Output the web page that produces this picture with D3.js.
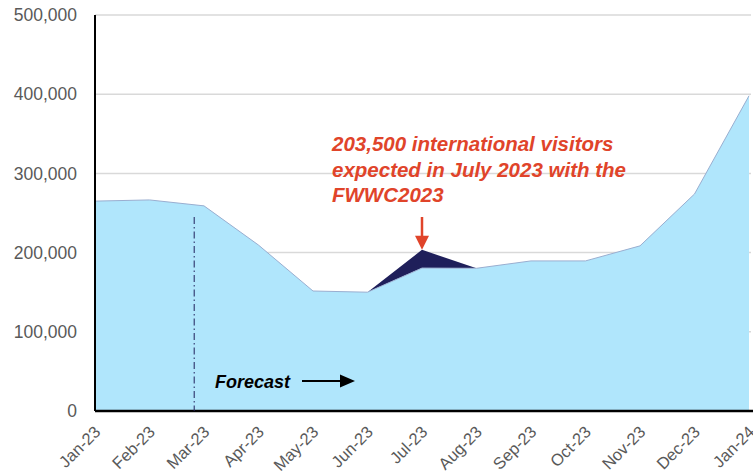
<!DOCTYPE html>
<html>
<head>
<meta charset="utf-8">
<script src="https://cdn.jsdelivr.net/npm/d3@7"></script>
<style>
  html, body { margin: 0; padding: 0; background: #fff; }
  svg { display: block; font-family: "Liberation Sans", Arial, sans-serif; }
</style>
</head>
<body>
<svg id="chart" width="753" height="476"></svg>
<script>
const months = ["Jan-23","Feb-23","Mar-23","Apr-23","May-23","Jun-23","Jul-23","Aug-23","Sep-23","Oct-23","Nov-23","Dec-23","Jan-24"];
const baseVisitors = [265000, 266500, 259000, 209500, 151500, 150000, 180500, 180200, 189500, 189500, 208500, 274000, 398000];
const fwwcExtra =    [0, 0, 0, 0, 0, 0, 23000, 0, 0, 0, 0, 0, 0];
const yTicks = [0, 100000, 200000, 300000, 400000, 500000];
const annotationLines = ["203,500 international visitors", "expected in July 2023 with the", "FWWC2023"];
const forecastLabel = "Forecast";
const forecastStartIndex = 1.82;

const svg = d3.select("#chart");
const m = { left: 95, right: 4, top: 15, bottom: 65 };
const W = 753, H = 476;

const x = d3.scalePoint().domain(months).range([m.left, W - m.right]);
const y = d3.scaleLinear().domain([0, 500000]).range([H - m.bottom, m.top]);
const xi = d3.scaleLinear().domain([0, months.length - 1]).range([m.left, W - m.right]);

// gridlines
svg.append("g").selectAll("line").data(yTicks.filter(d => d > 0)).join("line")
  .attr("x1", m.left).attr("x2", W - 2)
  .attr("y1", d => y(d)).attr("y2", d => y(d))
  .attr("stroke", "#d9d9d9").attr("stroke-width", 1.5);

const data = months.map((mo, i) => ({ mo, base: baseVisitors[i], extra: fwwcExtra[i] }));

// dark stacked area (FWWC)
const areaTop = d3.area()
  .x(d => x(d.mo))
  .y0(d => y(d.base))
  .y1(d => y(d.base + d.extra));
svg.append("path").datum(data).attr("d", areaTop).attr("fill", "#1f1f5a");

// light base area
const areaBase = d3.area()
  .x(d => x(d.mo))
  .y0(y(0))
  .y1(d => y(d.base));
svg.append("path").datum(data).attr("d", areaBase).attr("fill", "#b0e6fc");
svg.append("path").datum(data)
  .attr("d", d3.line().x(d => x(d.mo)).y(d => y(d.base)))
  .attr("fill", "none").attr("stroke", "#9aaed0").attr("stroke-width", 1);

// axes
const yAxis = d3.axisLeft(y).tickValues(yTicks).tickSize(0).tickPadding(18)
  .tickFormat(d3.format(","));
const gy = svg.append("g").attr("transform", `translate(${m.left},0)`).call(yAxis);
gy.select(".domain").remove();
gy.selectAll("text").attr("fill", "#595959").attr("font-size", 17.5)
  .attr("font-family", "Liberation Sans, Arial, sans-serif");

svg.append("line").attr("x1", m.left).attr("x2", m.left)
  .attr("y1", y(500000)).attr("y2", y(0)).attr("stroke", "#000").attr("stroke-width", 2);
svg.append("line").attr("x1", m.left).attr("x2", W)
  .attr("y1", y(0)).attr("y2", y(0)).attr("stroke", "#000").attr("stroke-width", 2.5);

const xAxis = d3.axisBottom(x).tickSize(0).tickPadding(0);
const gx = svg.append("g").attr("transform", `translate(0,${y(0)})`).call(xAxis);
gx.select(".domain").remove();
gx.selectAll("text")
  .attr("fill", "#595959").attr("font-size", 16.5)
  .attr("font-family", "Liberation Sans, Arial, sans-serif")
  .attr("text-anchor", "end")
  .attr("dy", null).attr("y", 0)
  .attr("transform", "translate(6,22) rotate(-45)");

// forecast dash-dot line
svg.append("line")
  .attr("x1", xi(forecastStartIndex)).attr("x2", xi(forecastStartIndex))
  .attr("y1", 217).attr("y2", y(0))
  .attr("stroke", "#1f1f5a").attr("stroke-width", 1)
  .attr("stroke-dasharray", "7,3,1.5,3");

// forecast label + arrow
svg.append("text").attr("x", 215).attr("y", 388)
  .attr("font-size", 18).attr("font-weight", "bold").attr("font-style", "italic")
  .attr("fill", "#000").text(forecastLabel);
svg.append("line").attr("x1", 302).attr("x2", 343).attr("y1", 381).attr("y2", 381)
  .attr("stroke", "#000").attr("stroke-width", 2.2);
svg.append("path").attr("d", "M340,374.5 L355,381 L340,387.5 Z").attr("fill", "#000");

// annotation
const red = "#e0442a";
const ann = svg.append("text").attr("x", 332).attr("y", 151)
  .attr("font-size", 20.5).attr("font-weight", "bold").attr("font-style", "italic")
  .attr("fill", red);
annotationLines.forEach((t, i) => {
  ann.append("tspan").attr("x", 332).attr("dy", i === 0 ? 0 : 25.5).text(t);
});
const jx = x("Jul-23");
const jy = y(baseVisitors[6] + fwwcExtra[6]);
svg.append("line").attr("x1", jx).attr("x2", jx).attr("y1", 217).attr("y2", jy - 12)
  .attr("stroke", red).attr("stroke-width", 2.5);
svg.append("path").attr("d", `M${jx - 7},${jy - 14} L${jx},${jy} L${jx + 7},${jy - 14} Z`).attr("fill", red);
</script>
</body>
</html>
